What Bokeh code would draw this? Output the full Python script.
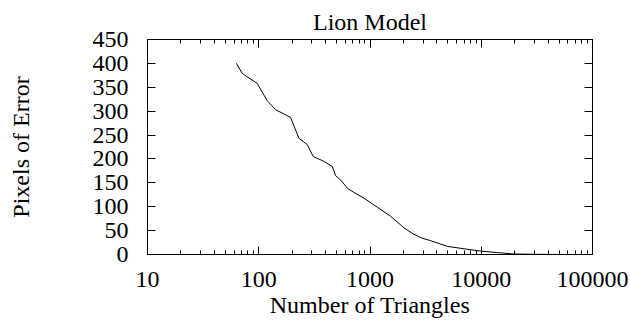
from bokeh.plotting import figure
from bokeh.models import (LogAxis, LinearAxis, FixedTicker, NumeralTickFormatter,
                          CustomJSTickFormatter, Range1d)
from bokeh.embed import file_html
from bokeh.resources import INLINE

# ---- data ----
chart_title = "Lion Model"
x_label = "Number of Triangles"
y_label = "Pixels of Error"

triangles = [63, 71, 97, 119, 142, 193, 230, 273, 309, 385, 458, 491, 544, 631,
             716, 881, 1162, 1531, 2018, 2448, 2950, 3507, 4955, 7000, 9880,
             14000, 19700, 30000, 50000]
pixels_error = [400, 379, 358, 322, 303, 287, 243, 230, 205, 195, 184, 165, 156,
                138, 130, 118, 99, 80, 56, 43, 34, 29, 17, 12, 7, 4, 1, 0.5, 0]

x_ticks = [10, 100, 1000, 10000, 100000]
x_minor_mult = [2, 3, 4, 5, 6, 7, 8, 9]
y_ticks = [0, 50, 100, 150, 200, 250, 300, 350, 400, 450]

FONT = "Liberation Serif"
x_minor = [m * d for d in x_ticks[:-1] for m in x_minor_mult]

p = figure(width=630, height=320, x_axis_type="log",
           x_range=Range1d(10, 100000), y_range=Range1d(0, 450),
           output_backend="svg", toolbar_location=None,
           min_border_left=147, min_border_right=38,
           min_border_top=39, min_border_bottom=66,
           background_fill_color="white", border_fill_color="white")

p.title.text = chart_title
p.title.text_font = FONT
p.title.text_font_size = "24px"
p.title.text_font_style = "normal"
p.title.text_color = "black"
p.title.align = "center"
p.title.standoff = 10

p.xgrid.grid_line_color = None
p.ygrid.grid_line_color = None
p.outline_line_color = "black"
p.outline_line_width = 1
p.outline_line_alpha = 1

xt = FixedTicker(ticks=x_ticks, minor_ticks=x_minor)
yt = FixedTicker(ticks=y_ticks)

def style_axis(ax):
    ax.axis_line_color = "black"
    ax.major_tick_line_color = "black"
    ax.minor_tick_line_color = "black"
    ax.major_tick_in = 8
    ax.major_tick_out = 0
    ax.minor_tick_in = 4
    ax.minor_tick_out = 0
    ax.major_label_text_font = FONT
    ax.major_label_text_font_size = "24px"
    ax.major_label_text_color = "black"
    ax.axis_label_text_font = FONT
    ax.axis_label_text_font_size = "24px"
    ax.axis_label_text_font_style = "normal"
    ax.axis_label_text_color = "black"

xa = p.xaxis[0]
style_axis(xa)
xa.ticker = xt
xa.formatter = NumeralTickFormatter(format="0")
xa.axis_label = x_label
xa.major_label_standoff = 17
xa.axis_label_standoff = 2

ya = p.yaxis[0]
style_axis(ya)
ya.ticker = yt
ya.minor_tick_line_color = None
ya.axis_label = y_label
ya.major_label_standoff = 19
ya.axis_label_standoff = 56

blank = CustomJSTickFormatter(code="return ''")

top = LogAxis(ticker=xt, formatter=blank)
style_axis(top)
top.major_label_text_font_size = "0px"
top.major_label_standoff = 0
p.add_layout(top, "above")

right = LinearAxis(ticker=yt, formatter=blank)
style_axis(right)
right.minor_tick_line_color = None
right.major_label_text_font_size = "0px"
right.major_label_standoff = 0
p.add_layout(right, "right")

p.line(triangles, pixels_error, line_color="black", line_width=1)

open("out.html", "w").write(file_html(p, INLINE))
